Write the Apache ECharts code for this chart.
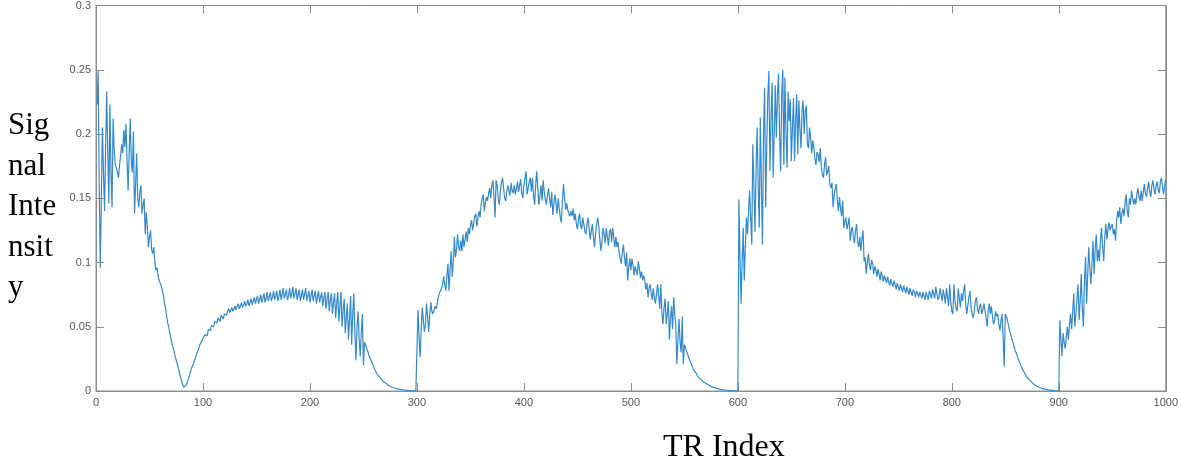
<!DOCTYPE html>
<html>
<head>
<meta charset="utf-8">
<title>Signal Intensity vs TR Index</title>
<script src="https://cdn.jsdelivr.net/npm/echarts@6/dist/echarts.min.js"></script>
<style>
  html, body { margin: 0; padding: 0; background: #ffffff; }
  #chart { width: 1181px; height: 468px; }
</style>
</head>
<body>
<div id="chart"></div>
<script>
// Fingerprint signal, one value per TR (TR 1 .. 1000), in four acquisition blocks.

// TR 1-300
const blockA = [
  0.223, 0.249, 0.160, 0.096, 0.150, 0.205, 0.170, 0.140, 0.190, 0.233,
  0.185, 0.146, 0.223, 0.170, 0.143, 0.212, 0.188, 0.176, 0.174, 0.170,
  0.166, 0.176, 0.183, 0.192, 0.185, 0.203, 0.190, 0.208, 0.180, 0.156,
  0.185, 0.212, 0.179, 0.170, 0.202, 0.138, 0.160, 0.185, 0.150, 0.143,
  0.155, 0.160, 0.138, 0.145, 0.150, 0.122, 0.139, 0.128, 0.112, 0.120,
  0.125, 0.110, 0.107, 0.112, 0.100, 0.094, 0.096, 0.090, 0.086, 0.087,
  0.082, 0.078, 0.075, 0.068, 0.065, 0.058, 0.053, 0.050, 0.045, 0.041,
  0.037, 0.034, 0.031, 0.027, 0.024, 0.021, 0.018, 0.014, 0.011, 0.008,
  0.005, 0.003, 0.0015, 0.004, 0.006, 0.009, 0.011, 0.014, 0.017, 0.019,
  0.021, 0.024, 0.026, 0.029, 0.031, 0.033, 0.036, 0.035, 0.039, 0.041,
  0.042, 0.044, 0.045, 0.043, 0.048, 0.049, 0.047, 0.051, 0.052, 0.050,
  0.054, 0.055, 0.053, 0.057, 0.056, 0.054, 0.059, 0.058, 0.056, 0.060,
  0.061, 0.059, 0.062, 0.064, 0.061, 0.063, 0.065, 0.062, 0.064, 0.066,
  0.063, 0.066, 0.068, 0.064, 0.066, 0.069, 0.065, 0.067, 0.070, 0.066,
  0.068, 0.071, 0.066, 0.069, 0.072, 0.067, 0.070, 0.073, 0.068, 0.071,
  0.074, 0.068, 0.071, 0.075, 0.069, 0.072, 0.076, 0.069, 0.072, 0.077,
  0.070, 0.073, 0.077, 0.070, 0.073, 0.078, 0.071, 0.074, 0.078, 0.070,
  0.074, 0.079, 0.071, 0.075, 0.080, 0.072, 0.075, 0.079, 0.071, 0.074,
  0.080, 0.072, 0.076, 0.081, 0.072, 0.076, 0.080, 0.071, 0.075, 0.079,
  0.070, 0.074, 0.079, 0.071, 0.075, 0.080, 0.070, 0.074, 0.078, 0.069,
  0.074, 0.079, 0.070, 0.074, 0.078, 0.068, 0.073, 0.078, 0.069, 0.073,
  0.077, 0.066, 0.072, 0.077, 0.064, 0.071, 0.077, 0.062, 0.070, 0.076,
  0.060, 0.069, 0.076, 0.057, 0.068, 0.077, 0.054, 0.066, 0.077, 0.050,
  0.063, 0.072, 0.045, 0.058, 0.068, 0.040, 0.055, 0.074, 0.036, 0.060,
  0.076, 0.045, 0.024, 0.050, 0.062, 0.040, 0.027, 0.045, 0.060, 0.020,
  0.038, 0.036, 0.033, 0.031, 0.028, 0.026, 0.024, 0.022, 0.020, 0.018,
  0.016, 0.015, 0.013, 0.012, 0.011, 0.010, 0.009, 0.008, 0.007, 0.0065,
  0.006, 0.0053, 0.0047, 0.0042, 0.0037, 0.0033, 0.0029, 0.0026, 0.0023, 0.0020,
  0.0018, 0.0016, 0.0014, 0.0012, 0.0011, 0.0010, 0.0009, 0.0008, 0.0007, 0.0006,
  0.0005, 0.0004, 0.0004, 0.0003, 0.0003, 0.0002, 0.0002, 0.0001, 0.0001, 0.0000
];

// TR 301-600
const blockB = [
  0.063, 0.042, 0.026, 0.048, 0.065, 0.055, 0.046, 0.052, 0.068, 0.058,
  0.046, 0.060, 0.069, 0.062, 0.060, 0.063, 0.066, 0.064, 0.068, 0.073,
  0.076, 0.078, 0.080, 0.083, 0.089, 0.083, 0.078, 0.090, 0.099, 0.078,
  0.095, 0.109, 0.089, 0.100, 0.120, 0.104, 0.110, 0.122, 0.112, 0.109,
  0.117, 0.109, 0.122, 0.112, 0.118, 0.124, 0.116, 0.127, 0.122, 0.129,
  0.133, 0.125, 0.130, 0.136, 0.138, 0.128, 0.135, 0.140, 0.135, 0.145,
  0.150, 0.153, 0.140, 0.146, 0.151, 0.148, 0.154, 0.158, 0.150, 0.160,
  0.164, 0.152, 0.135, 0.164, 0.160, 0.150, 0.145, 0.155, 0.162, 0.166,
  0.158, 0.150, 0.148, 0.155, 0.160, 0.159, 0.152, 0.162, 0.156, 0.154,
  0.160, 0.153, 0.157, 0.163, 0.155, 0.160, 0.165, 0.154, 0.150, 0.160,
  0.166, 0.171, 0.153, 0.158, 0.163, 0.166, 0.155, 0.166, 0.152, 0.145,
  0.160, 0.171, 0.158, 0.145, 0.152, 0.160, 0.148, 0.164, 0.155, 0.149,
  0.145, 0.152, 0.158, 0.150, 0.143, 0.155, 0.137, 0.145, 0.153, 0.146,
  0.138, 0.150, 0.143, 0.135, 0.131, 0.148, 0.161, 0.150, 0.141, 0.146,
  0.141, 0.138, 0.136, 0.140, 0.136, 0.142, 0.133, 0.138, 0.130, 0.126,
  0.133, 0.138, 0.129, 0.126, 0.135, 0.130, 0.124, 0.122, 0.130, 0.135,
  0.127, 0.118, 0.124, 0.130, 0.120, 0.112, 0.122, 0.130, 0.135, 0.128,
  0.118, 0.109, 0.116, 0.127, 0.122, 0.115, 0.127, 0.120, 0.113, 0.124,
  0.126, 0.116, 0.127, 0.119, 0.112, 0.120, 0.112, 0.116, 0.108, 0.103,
  0.099, 0.108, 0.114, 0.104, 0.097, 0.108, 0.086, 0.096, 0.103, 0.094,
  0.103, 0.098, 0.090, 0.097, 0.094, 0.090, 0.101, 0.095, 0.088, 0.093,
  0.086, 0.090, 0.086, 0.079, 0.084, 0.073, 0.080, 0.083, 0.076, 0.071,
  0.080, 0.072, 0.068, 0.076, 0.083, 0.074, 0.064, 0.083, 0.060, 0.052,
  0.065, 0.072, 0.052, 0.060, 0.070, 0.040, 0.056, 0.066, 0.048, 0.073,
  0.060, 0.050, 0.021, 0.040, 0.056, 0.038, 0.030, 0.058, 0.021, 0.036,
  0.034, 0.031, 0.029, 0.026, 0.024, 0.022, 0.020, 0.018, 0.016, 0.015,
  0.014, 0.012, 0.011, 0.010, 0.009, 0.0085, 0.0078, 0.0071, 0.0065, 0.0060,
  0.0055, 0.0050, 0.0045, 0.0040, 0.0036, 0.0032, 0.0029, 0.0026, 0.0023, 0.0020,
  0.0018, 0.0016, 0.0014, 0.0012, 0.0011, 0.0010, 0.0009, 0.0008, 0.0007, 0.0006,
  0.0005, 0.0004, 0.0004, 0.0003, 0.0003, 0.0002, 0.0002, 0.0001, 0.0001, 0.0000
];

// TR 601-900
const blockC = [
  0.149, 0.105, 0.068, 0.100, 0.127, 0.086, 0.112, 0.135, 0.122, 0.140,
  0.156, 0.135, 0.114, 0.192, 0.160, 0.124, 0.170, 0.205, 0.160, 0.127,
  0.213, 0.160, 0.114, 0.200, 0.236, 0.143, 0.190, 0.230, 0.249, 0.171,
  0.212, 0.240, 0.166, 0.200, 0.238, 0.197, 0.230, 0.247, 0.200, 0.171,
  0.230, 0.250, 0.176, 0.244, 0.200, 0.174, 0.233, 0.210, 0.227, 0.179,
  0.205, 0.228, 0.179, 0.210, 0.231, 0.184, 0.226, 0.204, 0.189, 0.218,
  0.226, 0.200, 0.218, 0.222, 0.192, 0.189, 0.205, 0.197, 0.185, 0.195,
  0.190, 0.181, 0.176, 0.186, 0.184, 0.178, 0.189, 0.175, 0.168, 0.166,
  0.176, 0.182, 0.168, 0.171, 0.175, 0.161, 0.158, 0.162, 0.143, 0.152,
  0.158, 0.161, 0.148, 0.140, 0.151, 0.142, 0.136, 0.148, 0.127, 0.132,
  0.135, 0.126, 0.130, 0.135, 0.117, 0.124, 0.128, 0.120, 0.115, 0.125,
  0.130, 0.116, 0.112, 0.120, 0.109, 0.118, 0.125, 0.101, 0.104, 0.091,
  0.100, 0.107, 0.098, 0.094, 0.102, 0.099, 0.091, 0.097, 0.094, 0.089,
  0.095, 0.091, 0.086, 0.093, 0.089, 0.085, 0.090, 0.087, 0.084, 0.089,
  0.085, 0.082, 0.087, 0.084, 0.081, 0.086, 0.083, 0.079, 0.084, 0.081,
  0.078, 0.083, 0.080, 0.077, 0.082, 0.079, 0.076, 0.081, 0.078, 0.075,
  0.080, 0.077, 0.074, 0.079, 0.077, 0.073, 0.078, 0.076, 0.073, 0.077,
  0.075, 0.072, 0.077, 0.074, 0.071, 0.077, 0.074, 0.071, 0.078, 0.075,
  0.072, 0.079, 0.076, 0.072, 0.081, 0.076, 0.071, 0.073, 0.080, 0.075,
  0.070, 0.079, 0.074, 0.068, 0.080, 0.073, 0.066, 0.083, 0.070, 0.062,
  0.060, 0.083, 0.070, 0.064, 0.062, 0.080, 0.072, 0.065, 0.076, 0.070,
  0.078, 0.083, 0.068, 0.060, 0.060, 0.073, 0.078, 0.065, 0.060, 0.057,
  0.062, 0.070, 0.073, 0.064, 0.060, 0.066, 0.068, 0.060, 0.063, 0.068,
  0.063, 0.057, 0.050, 0.062, 0.068, 0.060, 0.066, 0.058, 0.052, 0.055,
  0.062, 0.058, 0.060, 0.052, 0.047, 0.055, 0.060, 0.040, 0.019, 0.060,
  0.058, 0.055, 0.051, 0.047, 0.044, 0.041, 0.038, 0.035, 0.032, 0.030,
  0.028, 0.025, 0.023, 0.021, 0.019, 0.017, 0.016, 0.014, 0.013, 0.011,
  0.010, 0.009, 0.0085, 0.0075, 0.0066, 0.0058, 0.0051, 0.0045, 0.0040, 0.0035,
  0.0031, 0.0027, 0.0024, 0.0021, 0.0018, 0.0016, 0.0014, 0.0012, 0.0010, 0.0009,
  0.0008, 0.0007, 0.0006, 0.0005, 0.0004, 0.0003, 0.0002, 0.0002, 0.0001, 0.0000
];

// TR 901-1000
const blockD = [
  0.055, 0.040, 0.027, 0.045, 0.038, 0.033, 0.042, 0.050, 0.040, 0.052,
  0.060, 0.048, 0.062, 0.076, 0.050, 0.060, 0.072, 0.083, 0.055, 0.070,
  0.091, 0.065, 0.050, 0.085, 0.104, 0.068, 0.090, 0.112, 0.095, 0.083,
  0.100, 0.117, 0.091, 0.110, 0.122, 0.101, 0.110, 0.101, 0.118, 0.127,
  0.112, 0.101, 0.120, 0.130, 0.118, 0.126, 0.131, 0.125, 0.128, 0.130,
  0.122, 0.126, 0.117, 0.132, 0.140, 0.135, 0.143, 0.130, 0.138, 0.142,
  0.136, 0.147, 0.153, 0.140, 0.135, 0.150, 0.145, 0.156, 0.150, 0.145,
  0.150, 0.145, 0.153, 0.158, 0.151, 0.148, 0.156, 0.148, 0.155, 0.161,
  0.154, 0.151, 0.158, 0.163, 0.155, 0.151, 0.160, 0.164, 0.157, 0.153,
  0.160, 0.163, 0.156, 0.154, 0.163, 0.166, 0.158, 0.153, 0.160, 0.165
];

// Axis ticks
const xTicks = [0, 100, 200, 300, 400, 500, 600, 700, 800, 900, 1000];
const yTicks = [0, 0.05, 0.1, 0.15, 0.2, 0.25, 0.3];

const xTitle = 'TR Index';
const yTitleLines = ['Sig', 'nal', 'Inte', 'nsit', 'y'];

const signal = [].concat(blockA, blockB, blockC, blockD);
const seriesData = signal.map((v, i) => [i + 1, v]);

const frameColor = '#8c8c8c';
const labelColor = '#555555';
const lineColor = '#3589ca';
const tickFont = { color: labelColor, fontSize: 11, fontFamily: 'Liberation Sans, Arial, sans-serif' };

const xStep = xTicks[1] - xTicks[0];
const yStep = yTicks[1] - yTicks[0];

function axisBase(min, max, step) {
  return {
    type: 'value',
    min: min,
    max: max,
    interval: step,
    splitLine: { show: false },
    axisLine: { show: true, onZero: false, lineStyle: { color: frameColor, width: 1 } },
    axisTick: { show: true, inside: true, length: 8, lineStyle: { color: frameColor, width: 1 } }
  };
}

const chart = echarts.init(document.getElementById('chart'), null, { renderer: 'canvas' });

chart.setOption({
  animation: false,
  backgroundColor: '#ffffff',
  grid: {
    left: 96, right: 14, top: 4, bottom: 77,
    show: true, borderColor: frameColor, borderWidth: 1, backgroundColor: '#ffffff'
  },
  xAxis: [
    Object.assign(axisBase(xTicks[0], xTicks[xTicks.length - 1], xStep), {
      position: 'bottom',
      axisLabel: Object.assign({ show: true, margin: 6, formatter: (v) => String(v) }, tickFont)
    }),
    Object.assign(axisBase(xTicks[0], xTicks[xTicks.length - 1], xStep), {
      position: 'top',
      axisLabel: { show: false }
    })
  ],
  yAxis: [
    Object.assign(axisBase(yTicks[0], yTicks[yTicks.length - 1], yStep), {
      position: 'left',
      axisLabel: Object.assign({ show: true, margin: 5, formatter: (v) => String(v) }, tickFont)
    }),
    Object.assign(axisBase(yTicks[0], yTicks[yTicks.length - 1], yStep), {
      position: 'right',
      axisLabel: { show: false }
    })
  ],
  graphic: [
    {
      type: 'text',
      left: 8,
      top: 106,
      style: {
        text: yTitleLines.join('\n'),
        fill: '#000000',
        font: '31px "Liberation Serif", "Times New Roman", serif',
        lineHeight: 40.5,
        align: 'left'
      }
    },
    {
      type: 'text',
      left: 663,
      top: 432,
      style: {
        text: xTitle,
        fill: '#000000',
        font: '32px "Liberation Serif", "Times New Roman", serif'
      }
    }
  ],
  series: [
    {
      type: 'line',
      xAxisIndex: 0,
      yAxisIndex: 0,
      data: seriesData,
      showSymbol: false,
      symbol: 'none',
      sampling: null,
      smooth: false,
      lineStyle: { color: lineColor, width: 1.2 },
      itemStyle: { color: lineColor }
    }
  ]
});
</script>
</body>
</html>
